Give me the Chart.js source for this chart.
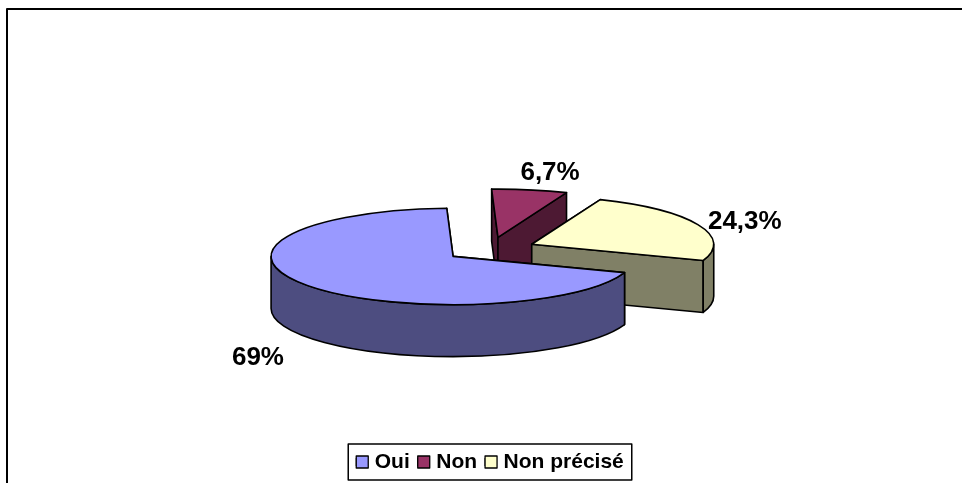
<!DOCTYPE html>
<html>
<head>
<meta charset="utf-8">
<script src="https://cdn.jsdelivr.net/npm/chart.js@4"></script>
<style>
html,body{margin:0;padding:0;background:#fff;overflow:hidden}
canvas{display:block}
</style>
</head>
<body>
<canvas id="c" width="962" height="483"></canvas>
<script>
const categories = ['Oui', 'Non', 'Non précisé'];
const values = [69, 6.7, 24.3];
const valueLabels = ['69%', '6,7%', '24,3%'];
const topColors = ['#9999FF', '#993366', '#FFFFCC'];
const wallColors = ['#4D4D80', '#4D1933', '#808066'];

const FLAT = 0.265, DEPTH = 52, EXPLODE = 45.75;
const paintOrder = [1, 2, 0];
const labelPos = [[-1.275, 1.19], [0.33, -0.84], [1.40, -0.30]]; // label shift from the pie centre, in radii
const SWATCH = 12, LEGEND_H = 36;

const pie3d = {
  id: 'pie3d',
  beforeDatasetDraw() { return false; },
  afterDatasetsDraw(chart) {
    const ctx = chart.ctx;
    const arcs = chart.getDatasetMeta(0).data;
    const geom = a => {
      const mid = (a.startAngle + a.endAngle) / 2;
      return {
        dx: Math.cos(mid) * EXPLODE, dy: Math.sin(mid) * EXPLODE,
        cx: a.x + Math.cos(mid) * EXPLODE, cy: a.y + Math.sin(mid) * EXPLODE * FLAT, r: a.outerRadius
      };
    };
    const rim = (g, t) => [g.cx + Math.cos(t) * g.r, g.cy + Math.sin(t) * g.r * FLAT];
    const outline = () => { ctx.strokeStyle = '#000'; ctx.lineWidth = 1.6; ctx.lineJoin = 'round'; ctx.stroke(); };
    const wedge = (g, t) => {
      const p = rim(g, t);
      ctx.beginPath();
      ctx.moveTo(g.cx, g.cy); ctx.lineTo(p[0], p[1]);
      ctx.lineTo(p[0], p[1] + DEPTH); ctx.lineTo(g.cx, g.cy + DEPTH);
      ctx.closePath();
    };
    for (const i of paintOrder) {
      const a = arcs[i], g = geom(a);
      ctx.fillStyle = wallColors[i];
      // cut faces
      for (const t of [a.startAngle, a.endAngle]) {
        wedge(g, t); ctx.fill(); outline();
      }
      // outer curved wall: only the part of the rim facing the viewer
      for (let k = 0; k < 2; k++) {
        const lo = Math.max(a.startAngle, k * 2 * Math.PI);
        const hi = Math.min(a.endAngle, k * 2 * Math.PI + Math.PI);
        if (hi <= lo) continue;
        ctx.beginPath();
        ctx.ellipse(g.cx, g.cy, g.r, g.r * FLAT, 0, lo, hi);
        ctx.ellipse(g.cx, g.cy + DEPTH, g.r, g.r * FLAT, 0, hi, lo, true);
        ctx.closePath();
        ctx.fill(); outline();
      }
      // top face drawn by the library's own arc element under a flattening transform
      ctx.save();
      ctx.translate(a.x, a.y); ctx.scale(1, FLAT); ctx.translate(g.dx - a.x, g.dy - a.y);
      a.draw(ctx);
      ctx.restore();
      ctx.beginPath();
      ctx.ellipse(g.cx, g.cy, g.r, g.r * FLAT, 0, a.startAngle, a.endAngle);
      ctx.lineTo(g.cx, g.cy);
      ctx.closePath();
      outline();
    }
    // value labels
    ctx.fillStyle = '#000';
    ctx.font = 'bold 26px "Liberation Sans", Arial, sans-serif';
    ctx.textAlign = 'center'; ctx.textBaseline = 'middle';
    arcs.forEach((a, i) => {
      const r = a.outerRadius;
      ctx.fillText(valueLabels[i], a.x + labelPos[i][0] * r, a.y + labelPos[i][1] * r * 0.5);
    });
  },
  afterDraw(chart) {
    const ctx = chart.ctx, lg = chart.legend, pad = lg.options.labels.padding;
    const hb = lg.legendHitBoxes;
    const l = Math.min(...hb.map(b => b.left)) - pad;
    const r = Math.max(...hb.map(b => b.left + b.width)) + pad;
    const midY = hb[0].top + hb[0].height / 2;
    ctx.strokeStyle = '#000'; ctx.lineWidth = 1.5;
    ctx.strokeRect(l, midY - LEGEND_H / 2, r - l, LEGEND_H);
    // legend swatches at full size, left of the tighter text gap
    hb.forEach((b, i) => {
      const y = midY - SWATCH / 2;
      ctx.fillStyle = topColors[i];
      ctx.fillRect(b.left, y, SWATCH, SWATCH);
      ctx.lineWidth = 1.3;
      ctx.strokeRect(b.left, y, SWATCH, SWATCH);
    });
    // frame: top and left edges only
    ctx.lineWidth = 2;
    ctx.beginPath();
    ctx.moveTo(7, 483); ctx.lineTo(7, 9); ctx.lineTo(962, 9);
    ctx.stroke();
  }
};

new Chart(document.getElementById('c'), {
  type: 'pie',
  data: {
    labels: categories,
    datasets: [{
      data: values,
      backgroundColor: topColors,
      borderWidth: 0,
      hoverOffset: 0
    }]
  },
  plugins: [pie3d],
  options: {
    responsive: false,
    animation: false,
    rotation: 109.6,
    radius: 182,
    events: [],
    layout: { padding: { left: 18, right: 0, top: 55, bottom: 0.5 } },
    plugins: {
      tooltip: { enabled: false },
      legend: {
        position: 'bottom',
        labels: {
          font: { family: '"Liberation Sans", Arial, sans-serif', size: 21, weight: 'bold', lineHeight: 0.95 },
          color: '#000',
          boxWidth: 8,
          boxHeight: 8,
          padding: 8,
          generateLabels(chart) {
            return categories.map((t, i) => ({
              text: t, fillStyle: topColors[i], strokeStyle: '#000', lineWidth: 1, index: i, hidden: false
            }));
          }
        }
      }
    }
  }
});
</script>
</body>
</html>
